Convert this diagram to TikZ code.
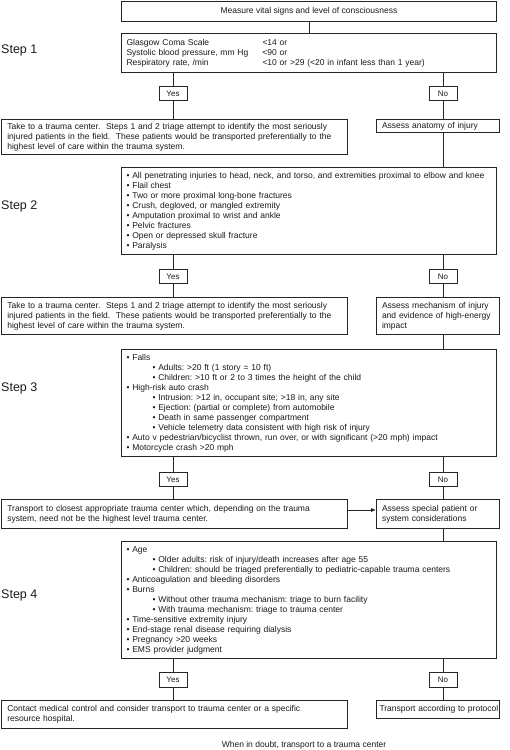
\documentclass[tikz,border=0pt]{standalone}
\usepackage{fontspec}
\setmainfont{Liberation Sans}
\usetikzlibrary{arrows.meta}
\definecolor{ink}{HTML}{1A1A1A}
\definecolor{edge}{HTML}{262626}
\newcommand\fsz{\fontsize{8.5}{10}\selectfont}
\newcommand\blines[1]{\begin{tabular}{@{}l@{}}#1\end{tabular}}
\newcommand\subb{\hspace*{26pt}}
\frenchspacing
\begin{document}
\begin{tikzpicture}[x=1pt,y=-1pt,
  box/.style={draw=edge, line width=1pt, anchor=north west, inner xsep=5pt, inner ysep=0pt, align=left, font=\fsz, text=ink},
  rbox/.style={box, inner xsep=6pt},
  abox/.style={box, inner xsep=5.5pt, text width=112pt},
  ctr/.style={draw=edge, line width=1pt, anchor=north west, inner sep=0pt, align=center, font=\fsz, text=ink},
  yn/.style={draw=edge, line width=1pt, minimum width=28pt, minimum height=14.5pt, inner sep=0pt, font=\fontsize{8}{9}\selectfont, text=ink},
  steplab/.style={anchor=west, font=\fontsize{12.5}{14}\selectfont, text=ink, inner sep=0pt},
  link/.style={draw=edge, line width=1pt},
]
\fill[white] (0,0) rectangle (509,750);
\useasboundingbox (0,0) rectangle (509,750);

% step labels
\node[steplab] (st1) at (1,50) {Step 1};
\node[steplab] (st2) at (1,206.5) {Step 2};
\node[steplab] (st3) at (1,388.5) {Step 3};
\node[steplab] (st4) at (1,595.5) {Step 4};

% top
\node[ctr, minimum width=375pt, minimum height=20pt] (top) at (121,1) {Measure vital signs and level of consciousness};

% step 1
\node[box, text width=365pt, minimum height=39pt] (s1) at (121,33) {\blines{%
\makebox[136pt][l]{Glasgow Coma Scale}<14 or\\
\makebox[136pt][l]{Systolic blood pressure, mm Hg}<90 or\\
\makebox[136pt][l]{Respiratory rate, /min}<10 or >29 (<20 in infant less than 1 year)}};
\node[yn] (y1) at (173,93.5) {Yes};
\node[yn] (n1) at (443,93.5) {No};
\node[rbox, text width=334pt, minimum height=35pt] (r1) at (0.8,119) {\blines{%
Take to a trauma center.\ \ Steps 1 and 2 triage attempt to identify the most seriously\\
injured patients in the field.\ \ These patients would be transported preferentially to the\\
highest level of care within the trauma system.}};
\node[abox, minimum height=13pt] (a1) at (376,119) {\blines{Assess anatomy of injury}};

% step 2
\node[box, text width=365pt, minimum height=87pt] (s2) at (121,167) {\blines{%
• All penetrating injuries to head, neck, and torso, and extremities proximal to elbow and knee\\
• Flail chest\\
• Two or more proximal long-bone fractures\\
• Crush, degloved, or mangled extremity\\
• Amputation proximal to wrist and ankle\\
• Pelvic fractures\\
• Open or depressed skull fracture\\
• Paralysis}};
\node[yn] (y2) at (173,276.5) {Yes};
\node[yn] (n2) at (443,276.5) {No};
\node[rbox, text width=334pt, minimum height=37pt] (r2) at (0.8,297) {\blines{%
Take to a trauma center.\ \ Steps 1 and 2 triage attempt to identify the most seriously\\
injured patients in the field.\ \ These patients would be transported preferentially to the\\
highest level of care within the trauma system.}};
\node[abox, minimum height=37pt] (a2) at (376,297) {\blines{%
Assess mechanism of injury\\
and evidence of high-energy\\
impact}};

% step 3
\node[box, text width=365pt, minimum height=107pt] (s3) at (121,349) {\blines{%
• Falls\\
\subb• Adults: >20 ft (1 story = 10 ft)\\
\subb• Children: >10 ft or 2 to 3 times the height of the child\\
• High-risk auto crash\\
\subb• Intrusion: >12 in, occupant site; >18 in, any site\\
\subb• Ejection: (partial or complete) from automobile\\
\subb• Death in same passenger compartment\\
\subb• Vehicle telemetry data consistent with high risk of injury\\
• Auto v pedestrian/bicyclist thrown, run over, or with significant (>20 mph) impact\\
• Motorcycle crash >20 mph}};
\node[yn] (y3) at (173,479.5) {Yes};
\node[yn] (n3) at (443,479.5) {No};
\node[rbox, text width=334pt, minimum height=29pt] (r3) at (0.8,499) {\blines{%
Transport to closest appropriate trauma center which, depending on the trauma\\
system, need not be the highest level trauma center.}};
\node[abox, minimum height=29pt] (a3) at (376,499) {\blines{%
Assess special patient or\\
system considerations}};

% step 4
\node[box, text width=365pt, minimum height=117pt] (s4) at (121,541) {\blines{%
• Age\\
\subb• Older adults: risk of injury/death increases after age 55\\
\subb• Children: should be triaged preferentially to pediatric-capable trauma centers\\
• Anticoagulation and bleeding disorders\\
• Burns\\
\subb• Without other trauma mechanism: triage to burn facility\\
\subb• With trauma mechanism: triage to trauma center\\
• Time-sensitive extremity injury\\
• End-stage renal disease requiring dialysis\\
• Pregnancy >20 weeks\\
• EMS provider judgment}};
\node[yn] (y4) at (173,679.75) {Yes};
\node[yn] (n4) at (443,679.75) {No};
\node[rbox, text width=334pt, minimum height=28pt] (r4) at (0.8,700) {\blines{%
Contact medical control and consider transport to trauma center or a specific\\
resource hospital.}};
\node[abox, inner xsep=3pt, text width=117pt, minimum height=18pt] (a4) at (376,700) {\blines{Transport according to protocol}};

\node[font=\fsz, text=ink, inner sep=0pt] (foot) at (304,745) {When in doubt, transport to a trauma center};

% connectors
\draw[link] (top.south) -- (s1.north);
\foreach \s/\y/\n/\r/\a in {s1/y1/n1/r1/a1, s2/y2/n2/r2/a2, s3/y3/n3/r3/a3, s4/y4/n4/r4/a4}{
  \draw[link] (\y |- \s.south) -- (\y.north);
  \draw[link] (\y.south) -- (\y |- \r.north);
  \draw[link] (\n |- \s.south) -- (\n.north);
  \draw[link] (\n.south) -- (\n |- \a.north);
}
\draw[link] (n1 |- a1.south) -- (n1 |- s2.north);
\draw[link] (n2 |- a2.south) -- (n2 |- s3.north);
\draw[link] (n3 |- a3.south) -- (n3 |- s4.north);
\coordinate (ay) at (0,510);
\draw[link, -{Latex[length=5pt,width=4.5pt]}] (r3.east |- ay) -- (a3.west |- ay);
\end{tikzpicture}
\end{document}
